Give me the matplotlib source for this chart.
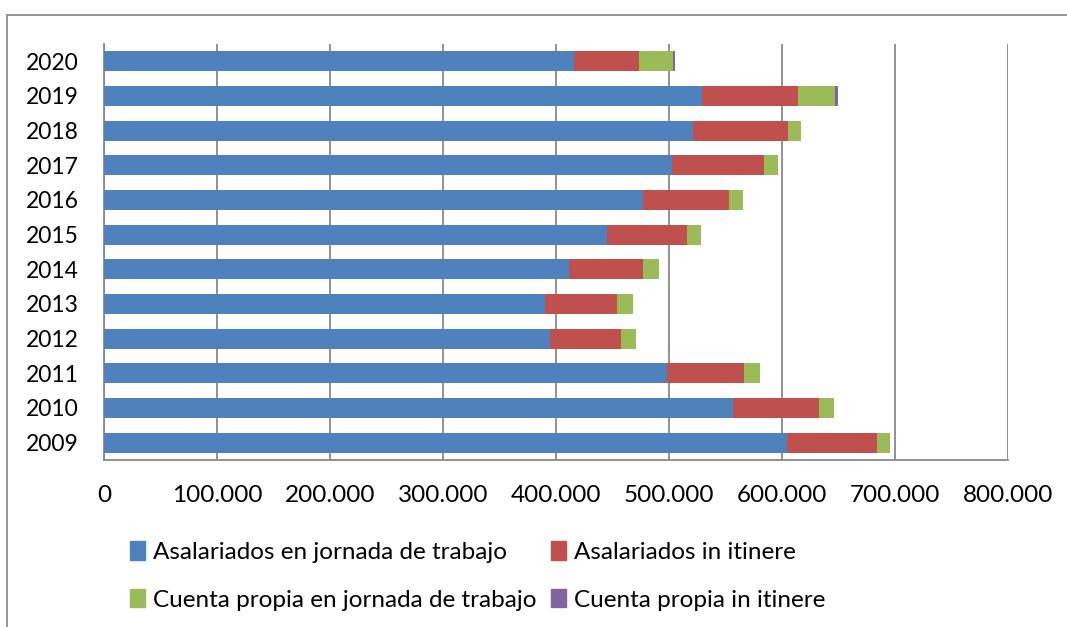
import matplotlib
matplotlib.use("Agg")
import matplotlib.pyplot as plt
from matplotlib.lines import Line2D
from matplotlib.patches import Patch
from matplotlib.ticker import FuncFormatter

plt.rcParams["font.family"] = ["Lato", "DejaVu Sans"]

years = ["2009", "2010", "2011", "2012", "2013", "2014", "2015", "2016",
         "2017", "2018", "2019", "2020"]
asal_jornada = [604700, 557000, 498500, 395000, 390600, 411200, 445400,
                476700, 502700, 521300, 529200, 416200]
asal_itinere = [79400, 76000, 67900, 62500, 63400, 66100, 70800, 76400,
                81400, 84000, 85000, 57500]
cp_jornada = [11800, 12800, 14200, 13300, 13900, 13600, 12100, 12400,
              12400, 11500, 32800, 29900]
cp_itinere = [0, 0, 0, 0, 0, 0, 0, 0, 0, 0, 2600, 1700]

series = [
    ("Asalariados en jornada de trabajo", asal_jornada, "#4F81BD"),
    ("Asalariados in itinere", asal_itinere, "#C0504D"),
    ("Cuenta propia en jornada de trabajo", cp_jornada, "#9BBB59"),
    ("Cuenta propia in itinere", cp_itinere, "#8064A2"),
]

W, H = 1067, 627
fig = plt.figure(figsize=(W / 100, H / 100), dpi=100)
ax = fig.add_axes([104 / W, 1 - 460 / H, (1008 - 104) / W, (460 - 44) / H])

GRID = "#888888"
ys = range(len(years))
left = [0] * len(years)
for name, vals, color in series:
    ax.barh(ys, vals, left=left, height=0.575, color=color, label=name,
            zorder=3, linewidth=0)
    left = [a + b for a, b in zip(left, vals)]

ax.set_xlim(0, 800000)
ax.set_ylim(-0.5, len(years) - 0.5)
ax.set_xticks(range(0, 800001, 100000))
ax.xaxis.set_major_formatter(
    FuncFormatter(lambda v, p: f"{int(v):,}".replace(",", ".")))
ax.set_yticks(list(ys))
ax.set_yticklabels(years)
ax.tick_params(axis="x", length=0, pad=18, labelsize=17.5)
ax.tick_params(axis="y", length=0, pad=18, labelsize=16.5)
ax.grid(axis="x", color=GRID, linewidth=1.3, zorder=0)
for s in ("top", "right"):
    ax.spines[s].set_visible(False)
for s in ("left", "bottom"):
    ax.spines[s].set_color(GRID)
    ax.spines[s].set_linewidth(1.3)

# legend: row 1 = blue, red; row 2 = green, purple
h = [Patch(color=c, label=n) for n, _, c in series]
order = [h[0], h[2], h[1], h[3]]
fig.legend(handles=order, ncol=2, loc="center left",
           bbox_to_anchor=(130 / W, 1 - 576 / H), frameon=False,
           fontsize=17.5, handlelength=0.6, handleheight=0.8,
           handletextpad=0.35, columnspacing=0.6, labelspacing=1.05,
           borderaxespad=0, borderpad=0)

# chart-area border (top and left edges)
fig.add_artist(Line2D([7 / W, 1], [1 - 15 / H, 1 - 15 / H],
                      transform=fig.transFigure, color="#8c8c8c", lw=1.3))
fig.add_artist(Line2D([7 / W, 7 / W], [0, 1 - 15 / H],
                      transform=fig.transFigure, color="#8c8c8c", lw=1.3))

fig.savefig("out.png", dpi=100)
